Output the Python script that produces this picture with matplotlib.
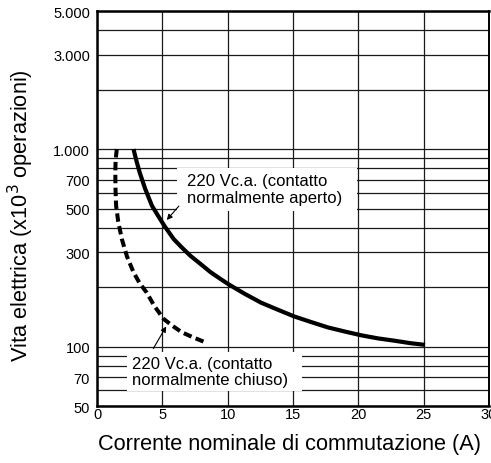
import matplotlib
matplotlib.use('Agg')
import matplotlib.pyplot as plt
from matplotlib.patches import Rectangle

plt.rcParams['font.family'] = ['Liberation Sans', 'DejaVu Sans']

# Curve: contatto normalmente aperto (solid)
no_current = [2.79, 3.02, 3.26, 3.47, 3.69, 4.2, 4.65, 5.15, 5.87, 6.5, 7.15, 7.92,
              8.69, 9.4, 10.1, 11.3, 12.54, 13.8, 15.1, 16.4, 17.67, 19.0,
              20.23, 21.5, 22.79, 24.0, 25.1]
no_life = [1000, 870, 763, 693, 628, 517, 462, 409, 350, 317, 288, 262,
           238, 221, 206, 185, 167, 154, 142, 133, 125, 119,
           114, 110, 107, 104, 102]

# Curve: contatto normalmente chiuso (dashed)
nc_current = [1.51, 1.42, 1.4, 1.41, 1.46, 1.62, 1.9, 2.3, 2.79, 3.25, 3.79,
              4.4, 5.1, 5.8, 6.5, 7.4, 8.3]
nc_life = [1000, 870, 763, 640, 517, 430, 350, 285, 238, 210, 188,
           160, 138, 127, 118, 111, 105]

x_ticks = [0, 5, 10, 15, 20, 25, 30]
y_major = [50, 70, 100, 300, 500, 700, 1000, 3000, 5000]
y_major_labels = ['50', '70', '100', '300', '500', '700', '1.000', '3.000', '5.000']
y_minor = [60, 80, 90, 200, 400, 600, 800, 900, 2000, 4000]

label_no = '220 Vc.a. (contatto\nnormalmente aperto)'
label_nc = '220 Vc.a. (contatto\nnormalmente chiuso)'

fig = plt.figure(figsize=(4.91, 4.64), dpi=100)
ax = fig.add_axes([0.1976, 0.1228, 0.7984, 0.8513])

ax.set_yscale('log')
ax.set_xlim(0, 30)
ax.set_ylim(50, 5000)

ax.set_xticks(x_ticks)
ax.set_xticklabels([str(v) for v in x_ticks])
ax.set_yticks(y_major)
ax.set_yticklabels(y_major_labels)
ax.set_yticks(y_minor, minor=True)
ax.yaxis.set_minor_formatter(plt.NullFormatter())
ax.tick_params(axis='both', which='both', length=0)
ax.tick_params(axis='y', labelsize=10.5, pad=5)
ax.tick_params(axis='x', labelsize=10.5, pad=1)

ax.set_axisbelow(True)
ax.grid(True, which='both', axis='y', color='#1a1a1a', lw=0.9)
ax.grid(True, which='major', axis='x', color='#1a1a1a', lw=0.9)
for side in ['left', 'bottom', 'top']:
    ax.spines[side].set_linewidth(1.8)
ax.spines['right'].set_linewidth(1.4)

# white boxes behind the labels (they hide the grid)
ax.add_patch(Rectangle((0.204, 0.494), 0.459, 0.109, transform=ax.transAxes,
                       fc='white', ec='none', zorder=1.5))
ax.add_patch(Rectangle((0.077, 0.038), 0.446, 0.099, transform=ax.transAxes,
                       fc='white', ec='none', zorder=1.5))

ax.plot(no_current, no_life, color='black', lw=3.0, solid_capstyle='butt',
        solid_joinstyle='round', zorder=3)
ax.plot(nc_current, nc_life, color='black', lw=2.9, dashes=(2.1, 1.1), zorder=3)

ax.annotate('', xy=(5.2, 427), xytext=(6.4, 527),
            arrowprops=dict(arrowstyle='-|>', color='black', lw=0.8, mutation_scale=8),
            zorder=4)
ax.annotate('', xy=(5.4, 130), xytext=(4.2, 95),
            arrowprops=dict(arrowstyle='-|>', color='black', lw=0.8, mutation_scale=8),
            zorder=4)

ax.text(0.2296, 0.590, label_no, transform=ax.transAxes, fontsize=12,
        va='top', ha='left', linespacing=1.15, zorder=4)
ax.text(0.0893, 0.127, label_nc, transform=ax.transAxes, fontsize=12,
        va='top', ha='left', linespacing=1.1, zorder=4)

fig.text(0.59, 0.041, 'Corrente nominale di commutazione (A)', fontsize=15.7,
         ha='center', va='center')
fig.text(0.042, 0.535, 'Vita elettrica (x10$^3$ operazioni)', fontsize=15.7,
         ha='center', va='center', rotation=90)

fig.savefig('out.png', dpi=100)
